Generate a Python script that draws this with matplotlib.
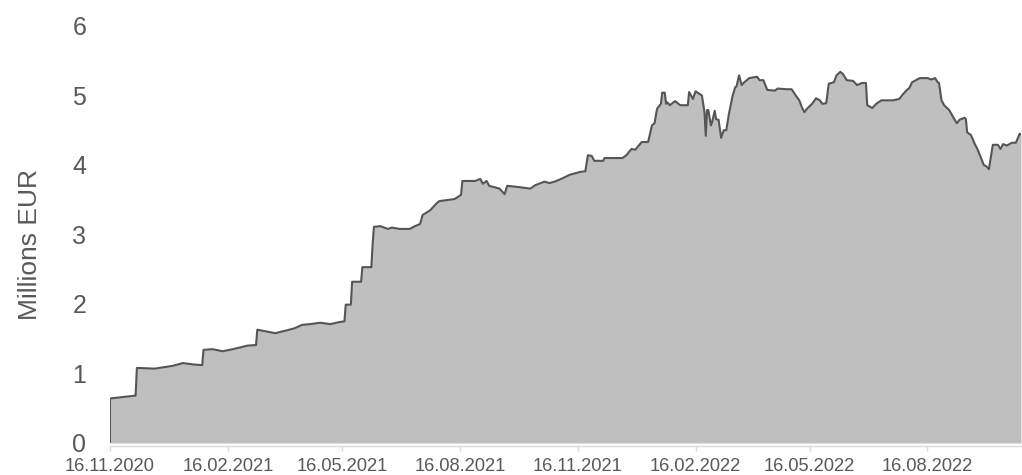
import numpy as np
import pandas as pd
import matplotlib
matplotlib.use("Agg")
import matplotlib.pyplot as plt

plt.rcParams["font.family"] = ["Liberation Sans", "DejaVu Sans"]

# === data (days after 16.11.2020, millions EUR) ===
start_date = "2020-11-16"
days = [0, 19, 20, 21, 35, 49, 57, 65, 72, 73, 80, 88, 96, 107, 114, 115,
        129, 140, 144, 150, 156, 164, 172, 179, 183, 184, 188, 189, 196, 197,
        204, 205, 206, 211, 217, 220, 226, 234, 238, 242, 244, 250, 255, 257,
        269, 274, 275, 285, 289, 291, 294, 296, 304, 308, 310, 320, 328, 332,
        339, 343, 347, 351, 359, 367, 371, 373, 376, 378, 385, 386, 394, 400,
        403, 407, 410, 415, 420, 423, 425, 427, 430, 431, 433, 434, 435, 437,
        441, 445, 451, 452, 455, 457, 462, 464, 465, 466, 467, 469, 470, 472,
        473, 475, 477, 479, 481, 483, 486, 488, 489, 491, 493, 495, 499, 505,
        507, 510, 513, 519, 521, 528, 532, 536, 538, 540, 542, 544, 548, 551,
        554, 556, 559, 561, 565, 567, 570, 572, 575, 580, 583, 587, 590, 591,
        595, 598, 602, 611, 616, 619, 622, 624, 626, 632, 638, 641, 644, 646,
        647, 649, 651, 655, 659, 661, 663, 667, 668, 669, 672, 675, 677, 680,
        682, 684, 686, 689, 693, 695, 697, 700, 704, 707, 710, 711]
values = [0.64, 0.68, 0.68, 1.08, 1.07, 1.11, 1.15, 1.13, 1.12, 1.34, 1.35,
          1.32, 1.35, 1.40, 1.41, 1.63, 1.58, 1.63, 1.65, 1.70, 1.71, 1.73,
          1.71, 1.74, 1.75, 1.99, 1.99, 2.32, 2.32, 2.53, 2.53, 2.86, 3.11,
          3.12, 3.08, 3.10, 3.08, 3.08, 3.12, 3.15, 3.28, 3.35, 3.45, 3.48,
          3.51, 3.57, 3.77, 3.77, 3.80, 3.73, 3.77, 3.70, 3.66, 3.58, 3.70,
          3.68, 3.66, 3.71, 3.76, 3.74, 3.76, 3.79, 3.86, 3.90, 3.91, 4.14,
          4.13, 4.06, 4.06, 4.10, 4.10, 4.10, 4.14, 4.23, 4.22, 4.33, 4.33,
          4.57, 4.60, 4.81, 4.88, 5.04, 5.04, 4.88, 4.90, 4.86, 4.92, 4.86,
          4.86, 5.05, 4.95, 5.06, 5.00, 4.76, 4.42, 4.79, 4.79, 4.57, 4.62,
          4.78, 4.66, 4.65, 4.39, 4.50, 4.50, 4.73, 5.00, 5.12, 5.13, 5.29,
          5.15, 5.19, 5.25, 5.27, 5.22, 5.22, 5.08, 5.07, 5.10, 5.09, 5.09,
          4.98, 4.93, 4.83, 4.76, 4.81, 4.88, 4.96, 4.93, 4.88, 4.89, 5.17,
          5.19, 5.29, 5.34, 5.31, 5.22, 5.21, 5.15, 5.18, 5.18, 4.86, 4.82,
          4.88, 4.93, 4.93, 4.95, 5.02, 5.08, 5.11, 5.19, 5.25, 5.25, 5.23,
          5.25, 5.19, 5.18, 4.93, 4.86, 4.79, 4.66, 4.60, 4.65, 4.68, 4.66,
          4.47, 4.43, 4.30, 4.23, 4.09, 4.00, 3.98, 3.94, 4.29, 4.29, 4.23,
          4.30, 4.28, 4.32, 4.32, 4.45, 4.44]
tick_labels = ["16.11.2020", "16.02.2021", "16.05.2021", "16.08.2021",
               "16.11.2021", "16.02.2022", "16.05.2022", "16.08.2022"]
y_ticks = [0, 1, 2, 3, 4, 5, 6]

dates = pd.Timestamp(start_date) + pd.to_timedelta(days, unit="D")
tick_dates = pd.to_datetime(tick_labels, format="%d.%m.%Y")

text_grey = "#595959"

fig = plt.figure(figsize=(10.22, 4.75), dpi=100)
ax = fig.add_axes([0.1076, 0.0674, 0.8914, 0.8779])

ax.fill_between(dates, 0, values, color="#bfbfbf", linewidth=0)
ax.plot(np.r_[dates[:1], dates], np.r_[0, values], color="#555555", linewidth=1.5)

ax.set_xlim(dates[0], dates[-1])
ax.set_ylim(0, 6)
ax.set_yticks(y_ticks)
ax.set_xticks(tick_dates)
ax.set_xticklabels(tick_labels)

for side in ["top", "right", "left"]:
    ax.spines[side].set_visible(False)
ax.spines["bottom"].set_color("#d9d9d9")
ax.spines["bottom"].set_linewidth(1.0)
ax.spines["bottom"].set_position(("outward", 2))

ax.tick_params(axis="y", length=0, pad=17, labelsize=18, labelcolor=text_grey)
ax.tick_params(axis="x", length=3.5, width=1, color="#d9d9d9", pad=5,
               labelsize=13.2, labelcolor=text_grey)

ax.set_ylabel("Millions EUR", fontsize=19, color=text_grey)
ax.yaxis.set_label_coords(-0.0745, 0.477)

fig.savefig("out.png", dpi=100)
